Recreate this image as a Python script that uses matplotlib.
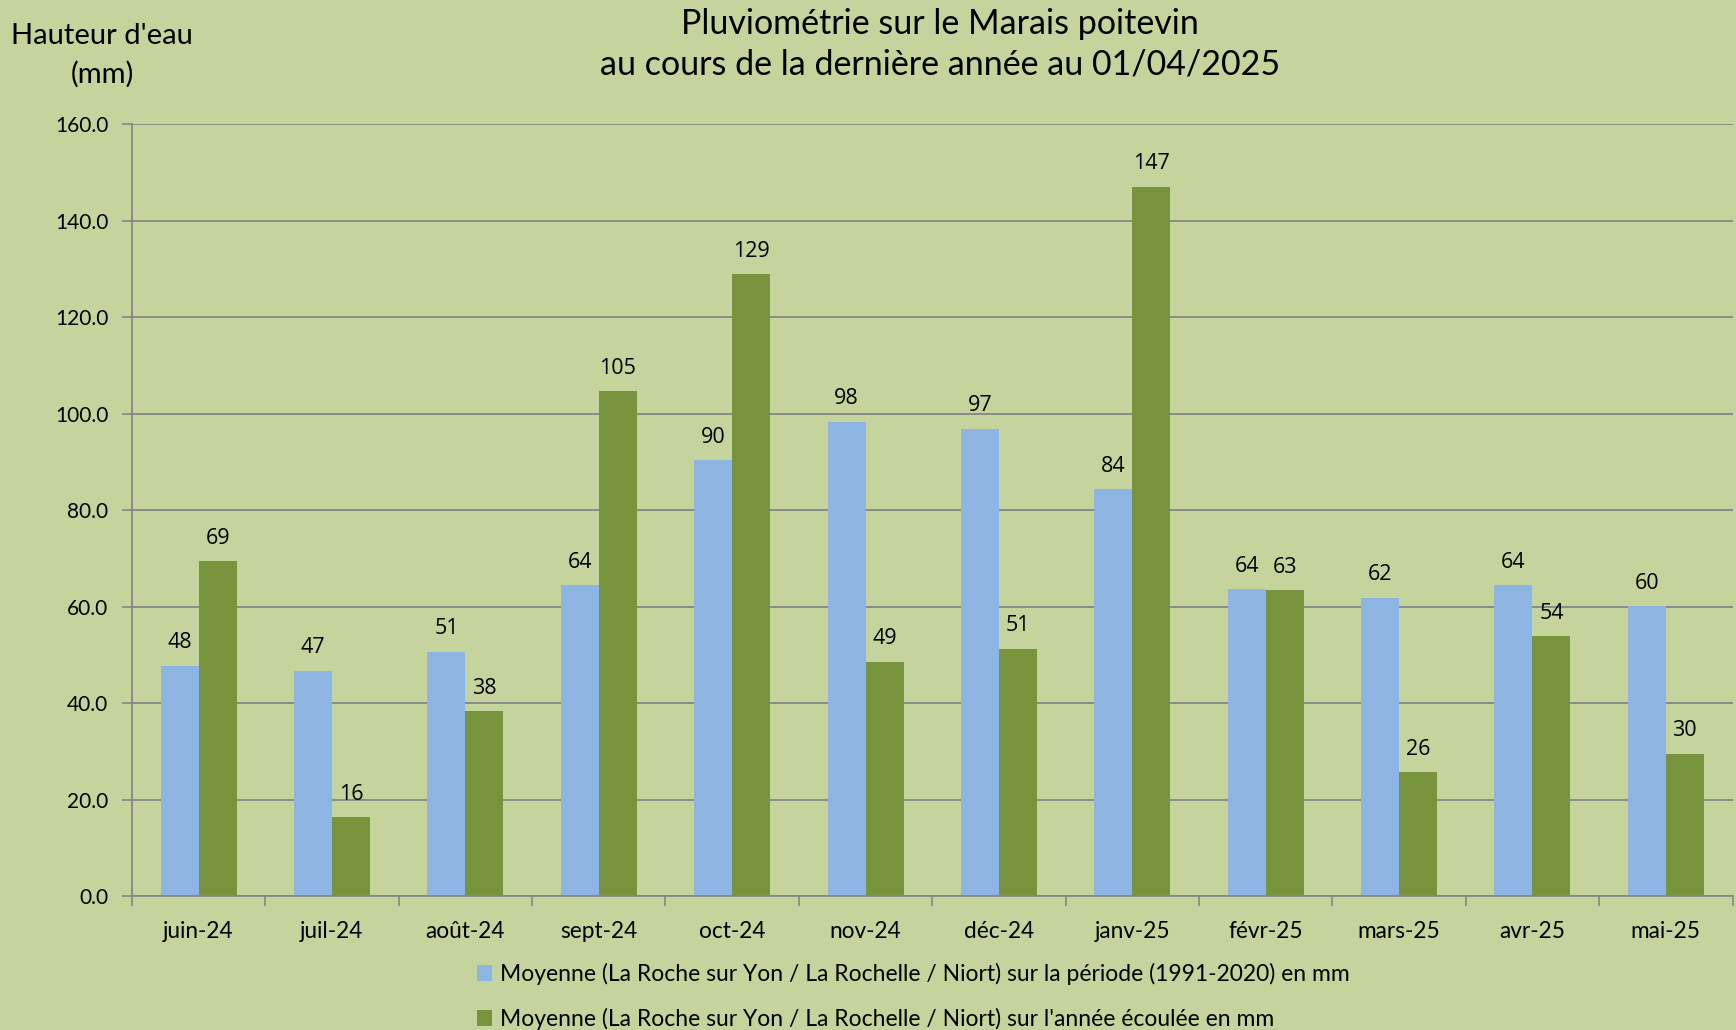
import numpy as np
import matplotlib.pyplot as plt

# données
mois = ["juin-24", "juil-24", "août-24", "sept-24", "oct-24", "nov-24",
        "déc-24", "janv-25", "févr-25", "mars-25", "avr-25", "mai-25"]
moyenne_1991_2020 = [47.7, 46.7, 50.6, 64.4, 90.3, 98.3, 96.8, 84.3, 63.6, 61.8, 64.4, 60.1]
annee_ecoulee = [69.4, 16.3, 38.3, 104.6, 128.9, 48.6, 51.3, 147.0, 63.4, 25.7, 53.9, 29.5]
yticks = [0, 20, 40, 60, 80, 100, 120, 140, 160]

label_moy = "Moyenne (La Roche sur Yon / La Rochelle / Niort) sur la période (1991-2020) en mm"
label_an = "Moyenne (La Roche sur Yon / La Rochelle / Niort) sur l'année écoulée en mm"

fond = "#C4D49C"
bleu = "#8EB4E3"
vert = "#77933C"
gris = "#868686"

plt.rcParams["font.family"] = ["Lato", "DejaVu Sans"]

fig = plt.figure(figsize=(17.36, 10.30), dpi=100, facecolor=fond)
ax = fig.add_axes([0.076, 0.130, 0.922, 0.7496], facecolor=fond)

x = np.arange(len(mois))
w = 0.285
b1 = ax.bar(x - w / 2, moyenne_1991_2020, w, color=bleu, label=label_moy, zorder=2)
b2 = ax.bar(x + w / 2, annee_ecoulee, w, color=vert, label=label_an, zorder=2)

# étiquettes de valeurs
for bars, vals in ((b1, moyenne_1991_2020), (b2, annee_ecoulee)):
    for rect, v in zip(bars, vals):
        ax.annotate(f"{v:.0f}", (rect.get_x() + rect.get_width() / 2, v),
                    xytext=(0, 9), textcoords="offset points",
                    ha="center", va="bottom", fontsize=15.5, color="black",
                    family=["Open Sans", "DejaVu Sans"])

ax.set_xlim(-0.5, len(mois) - 0.5)
ax.set_ylim(0, 160)
ax.set_yticks(yticks)
ax.set_yticklabels([f"{t:.1f}" for t in yticks])
ax.set_xticks(x)
ax.set_xticklabels(mois)
ax.set_xticks(np.arange(-0.5, len(mois)), minor=True)
ax.tick_params(axis="x", which="major", length=0, pad=18, labelsize=16.3)
ax.tick_params(axis="x", which="minor", length=7, color=gris, width=1.2)
ax.tick_params(axis="y", length=7, color=gris, width=1.2, pad=10, labelsize=15)

ax.grid(axis="y", color=gris, linewidth=1.3, zorder=0)
ax.set_axisbelow(True)
for s in ("top", "right"):
    ax.spines[s].set_visible(False)
for s in ("left", "bottom"):
    ax.spines[s].set_color(gris)
    ax.spines[s].set_linewidth(1.3)

fig.text(0.5415, 0.992, "Pluviométrie sur le Marais poitevin\nau cours de la dernière année au 01/04/2025",
         ha="center", va="top", fontsize=24.5, linespacing=1.3)
fig.text(0.059, 0.978, "Hauteur d'eau\n(mm)", ha="center", va="top", fontsize=21, linespacing=1.55)

fig.legend(loc="upper left", bbox_to_anchor=(0.275, 0.065), frameon=False, fontsize=16.5,
           handlelength=0.65, handleheight=0.65, handletextpad=0.35, labelspacing=1.0,
           borderpad=0, borderaxespad=0)

plt.savefig("out.png", dpi=100, facecolor=fond)
